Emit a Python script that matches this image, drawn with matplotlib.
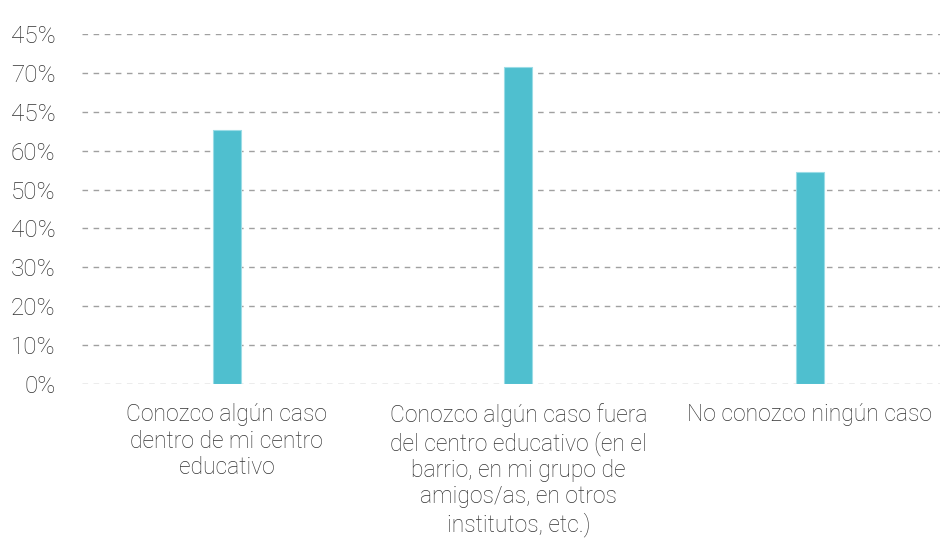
import matplotlib
matplotlib.use("Agg")
import matplotlib.pyplot as plt

categories = [
    "Conozco algún caso\ndentro de mi centro\neducativo",
    "Conozco algún caso fuera\ndel centro educativo (en el\nbarrio, en mi grupo de\namigos/as, en otros\ninstitutos, etc.)",
    "No conozco ningún caso",
]
values = [65.2, 81.4, 54.5]
tick_values = [0, 10, 20, 30, 40, 50, 60, 70, 80, 90]
tick_labels = ["0%", "10%", "20%", "30%", "40%", "50%", "60%", "45%", "70%", "45%"]

plt.rcParams['font.family'] = ['Roboto', 'DejaVu Sans']

fig = plt.figure(figsize=(9.45, 5.38), dpi=100)
ax = fig.add_axes([82/945, 1-384/538, 858/945, 350/538])

x = [0, 1, 2]
ax.bar(x, values, width=0.096, color="#4FBFCF", edgecolor="#9ADCE6", linewidth=0.8, zorder=3)
ax.set_xlim(-0.497, 2.446)
ax.set_ylim(0, 90)
ax.set_yticks(tick_values)
ax.set_yticklabels(tick_labels, fontsize=17.5, color="#333333", fontweight='light')
ax.set_xticks(x)
ax.set_xticklabels(categories, fontsize=16.5, color="#333333", linespacing=1.19,
                   va="top", fontweight='light')
ax.tick_params(axis='both', length=0)
ax.tick_params(axis='y', pad=19)
ax.tick_params(axis='x', pad=14)
ax.yaxis.grid(True, color="#A0A0A0", linestyle=(0, (4, 4)), linewidth=1)
ax.set_axisbelow(True)
for s in ax.spines.values():
    s.set_visible(False)

fig.savefig("out.png", dpi=100)
